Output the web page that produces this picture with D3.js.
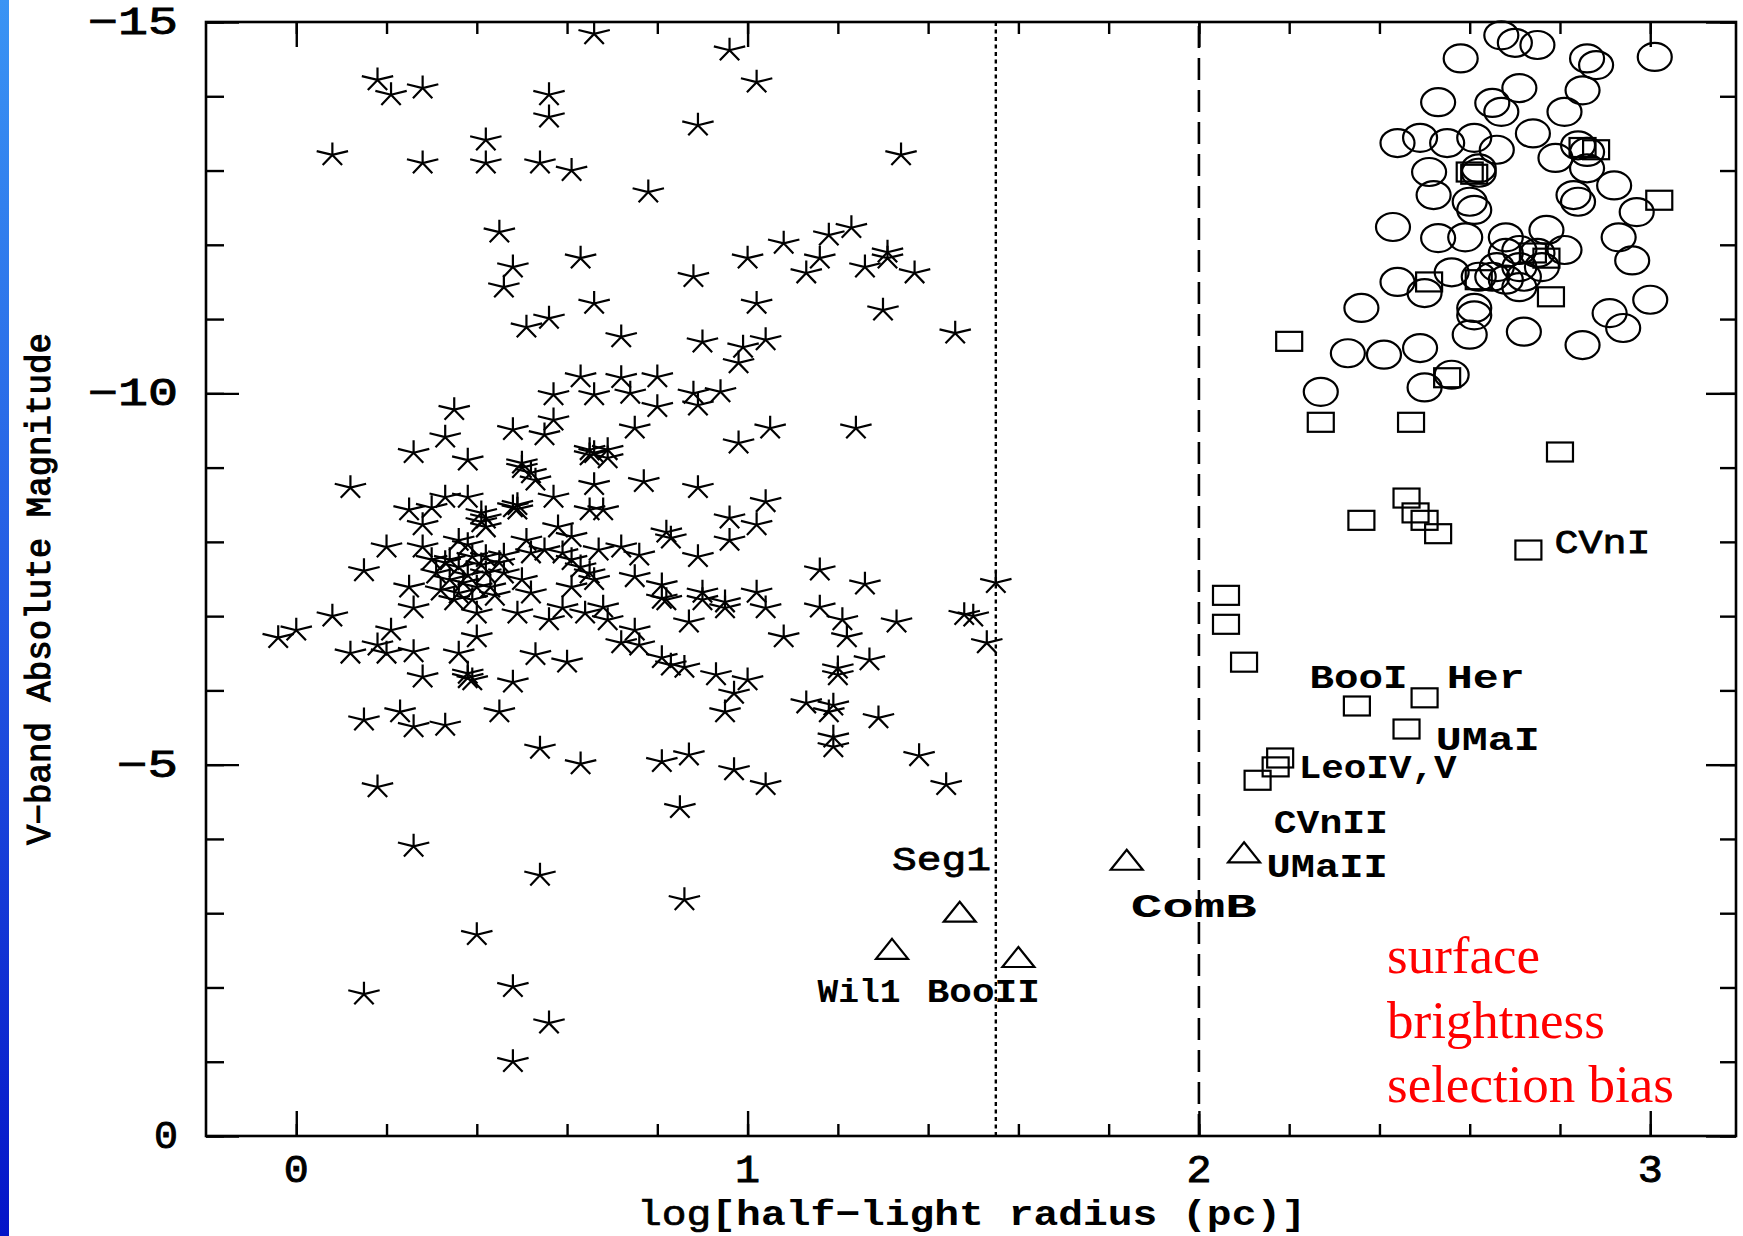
<!DOCTYPE html>
<html>
<head>
<meta charset="utf-8">
<script src="https://cdn.jsdelivr.net/npm/d3@7"></script>
<style>
  body { margin: 0; background: #fff; }
  svg { display: block; }
</style>
</head>
<body>
<script>
// [log half-light radius (pc), V-band absolute magnitude]
const globularClusters = [
  [0.66,-14.84],[0.96,-14.62],[1.02,-14.19],[0.18,-14.22],[0.21,-14.02],[0.28,-14.11],[0.56,-14.02],[0.56,-13.72],
  [0.08,-13.21],[0.28,-13.10],[0.42,-13.41],[0.42,-13.10],[0.54,-13.10],[0.61,-13.00],[0.89,-13.61],[1.34,-13.21],
  [0.78,-12.71],[0.45,-12.17],[0.63,-11.82],[0.48,-11.70],[0.46,-11.43],[0.66,-11.21],[0.51,-10.89],[0.56,-11.01],
  [1.08,-12.02],[1.18,-12.13],[1.23,-12.23],[1.00,-11.82],[1.16,-11.82],[1.13,-11.62],[0.88,-11.57],[1.26,-11.70],
  [1.31,-11.90],[1.31,-11.82],[1.37,-11.62],[1.02,-11.21],[1.30,-11.12],[1.46,-10.81],[0.72,-10.76],[0.90,-10.69],
  [0.99,-10.62],[1.04,-10.72],[0.98,-10.41],[0.63,-10.22],[0.72,-10.21],[0.80,-10.22],[0.66,-9.98],[0.74,-10.00],
  [0.80,-9.82],[0.88,-10.00],[0.94,-10.02],[0.89,-9.84],[0.57,-9.98],[0.35,-9.78],
  [0.33,-9.41],[0.26,-9.20],[0.38,-9.10],[0.48,-9.51],[0.55,-9.44],[0.57,-9.64],[0.50,-9.06],[0.52,-8.93],
  [0.53,-8.83],[0.65,-9.24],[0.66,-9.20],[0.69,-9.24],[0.69,-9.13],[0.66,-8.77],[0.65,-8.43],[0.12,-8.73],
  [0.33,-8.60],[0.38,-8.60],[0.57,-8.60],[0.48,-8.47],[0.49,-8.44],[0.25,-8.43],[0.30,-8.46],[0.28,-8.23],
  [0.41,-8.39],[0.42,-8.32],[0.42,-8.20],[0.20,-7.93],[0.28,-7.93],[0.15,-7.61],[0.36,-8.02],[0.51,-8.02],
  [0.58,-8.20],[0.61,-8.07],
  [0.33,-7.72],[0.36,-7.66],[0.39,-7.80],[0.42,-7.80],[0.45,-7.72],[0.34,-7.49],[0.37,-7.45],[0.40,-7.39],
  [0.43,-7.39],[0.39,-7.22],[0.36,-7.31],[0.31,-7.58],[0.42,-7.58],[0.46,-7.58],[0.25,-7.39],[0.26,-7.11],
  [0.40,-7.04],[0.49,-7.04],[0.52,-7.31],[0.56,-6.95],[0.59,-7.11],[0.64,-7.04],[0.68,-7.12],[0.69,-6.95],
  [0.59,-7.85],[0.61,-7.76],[0.63,-7.66],[0.65,-7.58],[0.67,-7.89],[0.72,-7.93],[0.52,-7.85],[0.55,-7.89],
  [0.61,-7.39],[0.66,-7.49],
  [0.34,-7.76],[0.38,-7.55],[0.41,-7.69],[0.32,-7.35],[0.44,-7.28],[0.46,-7.82],[0.30,-7.76],[0.50,-7.49],
  [0.38,-7.96],[0.35,-7.22],[0.41,-8.27],[0.49,-8.50],[0.50,-9.00],[0.65,-9.17],[0.38,-6.17],
  [0.08,-7.00],[-0.04,-6.71],[0.00,-6.81],[0.21,-6.81],[0.12,-6.50],[0.18,-6.61],[0.20,-6.50],[0.26,-6.52],
  [0.36,-6.50],[0.40,-6.72],[0.53,-6.48],[0.60,-6.38],[0.72,-6.64],[0.28,-6.18],[0.38,-6.23],[0.39,-6.14],
  [0.48,-6.11],[0.15,-5.60],[0.23,-5.71],[0.26,-5.51],[0.33,-5.53],[0.45,-5.71],[0.54,-5.22],[0.63,-5.01],
  [0.18,-4.70],
  [0.75,-9.53],[1.05,-9.53],[0.98,-9.33],[1.24,-9.53],[0.77,-8.81],[0.89,-8.73],[0.68,-8.43],[1.04,-8.54],
  [0.96,-8.32],[1.02,-8.23],[0.96,-8.02],[0.82,-8.13],[0.83,-8.05],[0.76,-7.82],[0.89,-7.80],[0.75,-7.53],
  [0.81,-7.42],[0.81,-7.24],[0.82,-7.22],[0.90,-7.32],[0.90,-7.22],[0.95,-7.19],[0.95,-7.11],[1.02,-7.32],
  [1.04,-7.11],[0.87,-6.92],[0.75,-6.81],[0.76,-6.61],[0.81,-6.44],[0.83,-6.34],[0.86,-6.31],[0.93,-6.21],
  [1.00,-6.14],[0.97,-5.96],[0.95,-5.71],[1.16,-7.62],[1.26,-7.43],[1.16,-7.12],[1.21,-6.95],[1.22,-6.72],
  [1.08,-6.72],[1.33,-6.92],[1.20,-6.30],[1.20,-6.21],[1.27,-6.41],[1.13,-5.83],[1.18,-5.71],[1.19,-5.80],
  [1.29,-5.63],[1.19,-5.37],[1.19,-5.24],[1.38,-5.12],[1.44,-4.73],[1.48,-7.02],[1.50,-7.00],[1.55,-7.45],
  [1.53,-6.64],[0.81,-5.04],[0.87,-5.13],[0.97,-4.93],[1.04,-4.73],[0.85,-4.42],
  [0.26,-3.90],[0.54,-3.51],[0.86,-3.18],[0.40,-2.71],[0.15,-1.91],[0.48,-2.01],[0.56,-1.52],[0.48,-1.00]
];

const galaxies = [
  [2.67,-14.82],[2.70,-14.72],[2.75,-14.69],[2.58,-14.51],[2.86,-14.51],[2.88,-14.42],[3.01,-14.53],[2.71,-14.11],
  [2.85,-14.08],[2.53,-13.92],[2.65,-13.91],[2.67,-13.79],[2.81,-13.79],[2.74,-13.50],[2.44,-13.37],[2.49,-13.44],
  [2.55,-13.37],[2.61,-13.44],[2.66,-13.28],[2.79,-13.17],[2.84,-13.34],[2.86,-13.25],[2.62,-13.03],[2.62,-12.97],
  [2.51,-12.98],[2.86,-13.03],[2.92,-12.80],[2.52,-12.67],[2.60,-12.58],[2.61,-12.47],[2.83,-12.67],[2.84,-12.58],
  [2.97,-12.44],[2.43,-12.24],[2.53,-12.09],[2.59,-12.10],[2.68,-12.10],[2.77,-12.20],[2.81,-11.93],[2.93,-12.10],
  [2.96,-11.79],[2.68,-11.89],[2.71,-11.93],[2.75,-11.89],[2.66,-11.70],[2.71,-11.70],[2.76,-11.70],[2.65,-11.57],
  [2.68,-11.53],[2.72,-11.57],[2.62,-11.57],[2.56,-11.63],[2.44,-11.50],[2.50,-11.35],[2.71,-11.43],[2.61,-11.15],
  [2.61,-11.05],[2.36,-11.15],[3.00,-11.26],[2.91,-11.08],[2.94,-10.88],[2.60,-10.79],[2.72,-10.83],[2.85,-10.65],
  [2.33,-10.54],[2.41,-10.52],[2.49,-10.61],[2.27,-10.02],[2.50,-10.08],[2.56,-10.25]
];

const dwarfSpheroidals = [
  [2.20,-10.70],[2.27,-9.61],[2.47,-9.61],[2.80,-9.21],[2.46,-8.59],[2.36,-8.29],[2.48,-8.39],[2.50,-8.29],
  [2.53,-8.11],[2.73,-7.89],[2.06,-7.28],[2.06,-6.89],[2.10,-6.38],[2.35,-5.79],[2.50,-5.90],[2.46,-5.48],
  [2.18,-5.09],[2.17,-4.97],[2.13,-4.79],
  [2.55,-10.21],[2.85,-13.31],[2.88,-13.28],[2.60,-12.98],[2.61,-12.95],[3.02,-12.60],[2.51,-11.50],
  [2.62,-11.53],[2.78,-11.30],[2.77,-11.82],[2.74,-11.89]
];

const ultraFaint = [[1.47,-3.02],[1.32,-2.52],[1.60,-2.41],[1.84,-3.72],[2.10,-3.82]];

const xTickValues = [0, 1, 2, 3];
const xTickLabels = ['0', '1', '2', '3'];
const yTickValues = [-15, -10, -5, 0];
const yTickLabels = ['\u221215', '\u221210', '\u22125', '0'];

const objectNames = ['Seg1', 'Wil1', 'BooII', 'ComB', 'CVnII', 'UMaII', 'BooI', 'Her', 'UMaI', 'LeoIV,V', 'CVnI'];
const sizeLimitDotted = 1.55;
const sizeLimitDashed = 2.0;

// where the name labels sit (data coords of text start / baseline) and their drawn widths
const labelLayout = [
  { at: [1.32, -3.58], w: 99,  bold: false },
  { at: [1.155, -1.80], w: 83, bold: true },
  { at: [1.397, -1.80], w: 113, bold: true },
  { at: [1.849, -2.95], w: 126, bold: true },
  { at: [2.166, -4.08], w: 114, bold: true },
  { at: [2.150, -3.49], w: 121, bold: true },
  { at: [2.245, -6.03], w: 98, bold: true },
  { at: [2.549, -6.03], w: 78, bold: true },
  { at: [2.525, -5.20], w: 104, bold: true },
  { at: [2.221, -4.82], w: 158, bold: true },
  { at: [2.788, -7.85], w: 96, bold: false }
];

class SizeMagPlot {
  constructor(config) {
    this.width = config.width;
    this.height = config.height;
    this.margin = config.margin;
    this.font = config.font;
    this.init = this.init.bind(this);
  }

  init() {
    this.svg = d3.select('body').append('svg')
      .attr('width', this.width)
      .attr('height', this.height);

    this.left = this.margin.left;
    this.right = this.width - this.margin.right;
    this.top = this.margin.top;
    this.bottom = this.height - this.margin.bottom;

    this.x = d3.scaleLinear().domain([-0.2, 3.19]).range([this.left, this.right]);
    this.y = d3.scaleLinear().domain([0, -15]).range([this.bottom, this.top]);

    this.createBackground();
    this.createGuides();
    this.createMarkers();
    this.createFrame();
    this.createTicks();
    this.createLabels();
    this.createTitles();
  }

  createBackground() {
    this.svg.append('rect')
      .attr('width', this.width).attr('height', this.height)
      .attr('fill', '#fff');

    let grad = this.svg.append('defs').append('linearGradient')
      .attr('id', 'edge').attr('x1', 0).attr('y1', 0).attr('x2', 0).attr('y2', 1);
    grad.append('stop').attr('offset', '0%').attr('stop-color', '#3a94f4');
    grad.append('stop').attr('offset', '50%').attr('stop-color', '#2258e2');
    grad.append('stop').attr('offset', '100%').attr('stop-color', '#0414c8');

    this.svg.append('rect')
      .attr('x', 0).attr('y', 0).attr('width', 9).attr('height', this.height)
      .attr('fill', 'url(#edge)');
  }

  createGuides() {
    this.svg.append('line')
      .attr('x1', this.x(sizeLimitDotted)).attr('x2', this.x(sizeLimitDotted))
      .attr('y1', this.top).attr('y2', this.bottom)
      .attr('stroke', '#000').attr('stroke-width', 2.4)
      .attr('stroke-dasharray', '4,3.5');

    this.svg.append('line')
      .attr('x1', this.x(sizeLimitDashed)).attr('x2', this.x(sizeLimitDashed))
      .attr('y1', this.top + 4).attr('y2', this.bottom)
      .attr('stroke', '#000').attr('stroke-width', 2.6)
      .attr('stroke-dasharray', '22,10');
  }

  starPath(rx, ry) {
    let p = '';
    for (let k = 0; k < 5; k++) {
      let a = (-90 + 72 * k) * Math.PI / 180;
      p += `M0,0L${(rx * Math.cos(a)).toFixed(2)},${(ry * Math.sin(a)).toFixed(2)}`;
    }
    return p;
  }

  createMarkers() {
    let g = this.svg.append('g')
      .attr('fill', 'none').attr('stroke', '#000').attr('stroke-width', 2.2);

    g.selectAll('.gc').data(globularClusters).enter()
      .append('path').classed('gc', true)
      .attr('d', this.starPath(16.5, 12.5))
      .attr('transform', d => `translate(${this.x(d[0])},${this.y(d[1])})`);

    g.selectAll('.gal').data(galaxies).enter()
      .append('ellipse').classed('gal', true)
      .attr('cx', d => this.x(d[0])).attr('cy', d => this.y(d[1]))
      .attr('rx', 17).attr('ry', 14);

    g.selectAll('.dsph').data(dwarfSpheroidals).enter()
      .append('rect').classed('dsph', true)
      .attr('x', d => this.x(d[0]) - 13).attr('y', d => this.y(d[1]) - 9.5)
      .attr('width', 26).attr('height', 19);

    g.selectAll('.uf').data(ultraFaint).enter()
      .append('path').classed('uf', true)
      .attr('d', 'M0,-10L16,10L-16,10Z')
      .attr('transform', d => `translate(${this.x(d[0])},${this.y(d[1])})`);
  }

  createFrame() {
    this.svg.append('rect')
      .attr('x', this.left).attr('y', this.top)
      .attr('width', this.right - this.left).attr('height', this.bottom - this.top)
      .attr('fill', 'none').attr('stroke', '#000').attr('stroke-width', 2.6);
  }

  createTicks() {
    let minorX = d3.range(0, 16).map(i => +(i * 0.2).toFixed(1));
    let minorY = d3.range(-15, 1);
    let clean = g => {
      g.select('.domain').remove();
      g.selectAll('line').attr('stroke', '#000').attr('stroke-width', 2.4);
    };
    let put = (axis, tx, ty) => this.svg.append('g')
      .attr('transform', `translate(${tx},${ty})`).call(axis).call(clean);

    put(d3.axisBottom(this.x).tickValues(minorX).tickSize(-12).tickFormat(''), 0, this.bottom);
    put(d3.axisBottom(this.x).tickValues(xTickValues).tickSize(-25).tickFormat(''), 0, this.bottom);
    put(d3.axisTop(this.x).tickValues(minorX).tickSize(-12).tickFormat(''), 0, this.top);
    put(d3.axisTop(this.x).tickValues(xTickValues).tickSize(-25).tickFormat(''), 0, this.top);
    put(d3.axisLeft(this.y).tickValues(minorY).tickSize(-18).tickFormat(''), this.left, 0);
    put(d3.axisLeft(this.y).tickValues(yTickValues).tickSize(-33).tickFormat(''), this.left, 0);
    put(d3.axisRight(this.y).tickValues(minorY).tickSize(-16).tickFormat(''), this.right, 0);
    put(d3.axisRight(this.y).tickValues(yTickValues).tickSize(-30).tickFormat(''), this.right, 0);

    let textStyle = sel => sel
      .style('font-family', this.font).style('font-size', '38px')
      .attr('stroke', '#000').attr('stroke-width', 0.9);

    this.svg.selectAll('.xlab').data(xTickValues).enter()
      .append('text').classed('xlab', true)
      .text((d, i) => xTickLabels[i])
      .attr('x', d => this.x(d)).attr('y', this.bottom + 46)
      .attr('text-anchor', 'middle')
      .attr('textLength', 25).attr('lengthAdjust', 'spacingAndGlyphs')
      .call(textStyle);

    this.svg.selectAll('.ylab').data(yTickValues).enter()
      .append('text').classed('ylab', true)
      .text((d, i) => yTickLabels[i])
      .attr('x', this.left - 28).attr('y', d => this.y(d) + 12)
      .attr('text-anchor', 'end')
      .attr('textLength', (d, i) => [90, 90, 61, 24][i])
      .attr('lengthAdjust', 'spacingAndGlyphs')
      .call(textStyle);
  }

  createLabels() {
    this.svg.selectAll('.name').data(objectNames).enter()
      .append('text').classed('name', true)
      .text(d => d)
      .attr('x', (d, i) => this.x(labelLayout[i].at[0]))
      .attr('y', (d, i) => this.y(labelLayout[i].at[1]))
      .attr('textLength', (d, i) => labelLayout[i].w)
      .attr('lengthAdjust', 'spacingAndGlyphs')
      .style('font-family', this.font).style('font-size', '33px')
      .style('font-weight', (d, i) => labelLayout[i].bold ? 'bold' : 'normal')
      .attr('stroke', (d, i) => labelLayout[i].bold ? 'none' : '#000')
      .attr('stroke-width', 0.8);

    let note = this.svg.append('text')
      .attr('fill', '#ff0000')
      .style('font-family', '"Liberation Serif", "Times New Roman", serif')
      .style('font-size', '53px');
    ['surface', 'brightness', 'selection bias'].forEach((t, i) => {
      note.append('tspan').attr('x', 1387).attr('y', 973 + i * 64.5).text(t);
    });
  }

  createTitles() {
    let xt = this.svg.append('text')
      .attr('x', 637).attr('y', 1225)
      .attr('textLength', 669).attr('lengthAdjust', 'spacingAndGlyphs')
      .style('font-family', this.font).style('font-size', '35px');
    xt.append('tspan').text('log').attr('stroke', '#000').attr('stroke-width', 0.7);
    xt.append('tspan').text('[half\u2212light radius (pc)]').style('font-weight', 'bold');

    this.svg.append('text')
      .text('V\u2212band Absolute Magnitude')
      .attr('text-anchor', 'middle')
      .attr('transform', 'translate(50,589) rotate(-90)')
      .attr('textLength', 512).attr('lengthAdjust', 'spacingAndGlyphs')
      .attr('stroke', '#000').attr('stroke-width', 1.1)
      .style('font-family', this.font).style('font-size', '35px');
  }
}

const plot = new SizeMagPlot({
  width: 1743,
  height: 1236,
  margin: { left: 206, right: 7, top: 22, bottom: 100 },
  font: '"Liberation Mono", "Courier New", monospace'
});
plot.init();
</script>
</body>
</html>
